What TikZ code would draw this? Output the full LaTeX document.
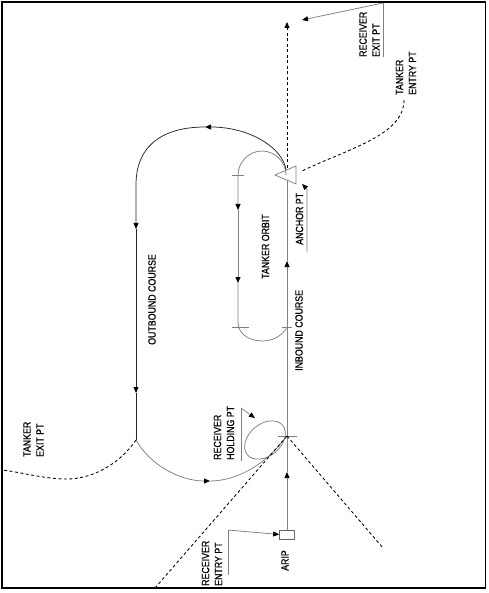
\documentclass[tikz,border=0pt]{standalone}
\usepackage{fontspec}
\newfontfamily\lblfont{Liberation Sans}[FakeStretch=0.84,FakeBold=0.6]
\usetikzlibrary{arrows.meta}
\tikzset{
  lbl/.style={font=\lblfont\fontsize{10.5}{13}\selectfont, rotate=90, anchor=west, inner sep=0pt, align=left},
  gline/.style={draw=black!50, line width=0.75pt},
  bline/.style={draw=black!85, line width=0.75pt},
  dline/.style={draw=black, line width=0.85pt, dash pattern=on 3pt off 2.5pt},
  tip/.style={-{Triangle[length=6pt,width=5pt,color=black]}},
}
\begin{document}
\begin{tikzpicture}[x=1pt,y=-1pt]
\useasboundingbox (0,0) rectangle (488,593);
\draw[line width=1.4pt] (2,2) rectangle (485.5,588);

% key points
\coordinate (hold) at (287,436);
\coordinate (junc) at (136,440);
\coordinate (anc) at (287,175);

% ARIP box
\node[draw=black!60, line width=0.6pt, minimum width=15pt, minimum height=9pt, inner sep=0pt] (aripbox) at (287,534.5) {};

% anchor triangle
\draw[gline] (275,175) -- (296,166) -- (296,184) -- cycle;

% inbound course
\draw[gline,tip] (aripbox.north) -- (287,472);
\draw[gline,tip] (287,472) -- (287,261);
\draw[gline] (287,261) -- (287,180);
\draw[gline] (278,436) -- (297,436);

% dashed exit up
\draw[dline,tip] (287,168) -- (287,22);

% tanker orbit
\draw[gline,tip] (286,175) .. controls (286,162) and (275,151) .. (262,151) .. controls (249,151) and (238,162) .. (238,175) -- (238,210);
\draw[gline,tip] (238,210) -- (238,283);
\draw[gline] (238,283) -- (238,322) .. controls (238,336) and (252,341) .. (263,341) .. controls (274,341) and (284,334) .. (287,327);
\draw[gline] (232,175) -- (244,175);
\draw[gline] (232,327) -- (249,327);
\draw[gline] (282,327) -- (292,327);

% outbound course
\draw[bline,tip] (286,170) .. controls (283,148) and (250,127) .. (205,127);
\draw[bline,tip] (205,127) .. controls (170,127) and (136,140) .. (136,185) -- (136,229);
\draw[bline,tip] (136,229) -- (136,393);
\draw[bline] (136,393) -- (junc);
\draw[gline,tip] (junc) .. controls (150,465) and (180,481) .. (210,481);
\draw[gline] (210,481) .. controls (240,481) and (270,460) .. (285,438);

% tanker exit
\draw[dline] (junc) .. controls (115,470) and (85,480) .. (63,479) .. controls (40,478) and (20,472) .. (2,470);

% receiver holding ellipse
\draw[gline, rotate around={40:(265,440)}] (265,440) ellipse [x radius=23pt, y radius=16pt];

% receiver entry and other dashed tracks
\draw[dline] (155,588) -- (hold);
\draw[dline] (hold) -- (383,548);
\draw[dline] (404,100) .. controls (404,135) and (350,148) .. (302,171);

% labels
\node[lbl] (tex) at (33.5,457) {TANKER\\EXIT PT};
\node[lbl] (rhp) at (224,460) {RECEIVER\\HOLDING PT};
\node[lbl] (rep) at (212,586) {RECEIVER\\ENTRY PT};
\node[lbl] (ariplbl) at (285,571) {ARIP};
\node[lbl] (anclbl) at (299.5,245) {ANCHOR PT};
\node[lbl] (orb) at (265.5,279) {TANKER ORBIT};
\node[lbl] (inb) at (299,371) {INBOUND COURSE};
\node[lbl] (outb) at (152,345) {OUTBOUND COURSE};
\node[lbl] (tep) at (406,95) {TANKER\\ENTRY PT};
\node[lbl] (rxp) at (369.5,57) {RECEIVER\\EXIT PT};

% leaders
\draw[gline] (383,57) -- (383,3);
\draw[gline,tip] (383,3) -- (302,20);
\draw[gline] (241,461) -- (241,408);
\draw[gline,tip] (241,408) -- (255,418);
\draw[gline] (228,575) -- (228,530);
\draw[gline,tip] (228,530) -- (aripbox.west);
\draw[gline,tip] (307,252) -- (307,194) .. controls (307,189) .. (302,184);
\end{tikzpicture}
\end{document}
